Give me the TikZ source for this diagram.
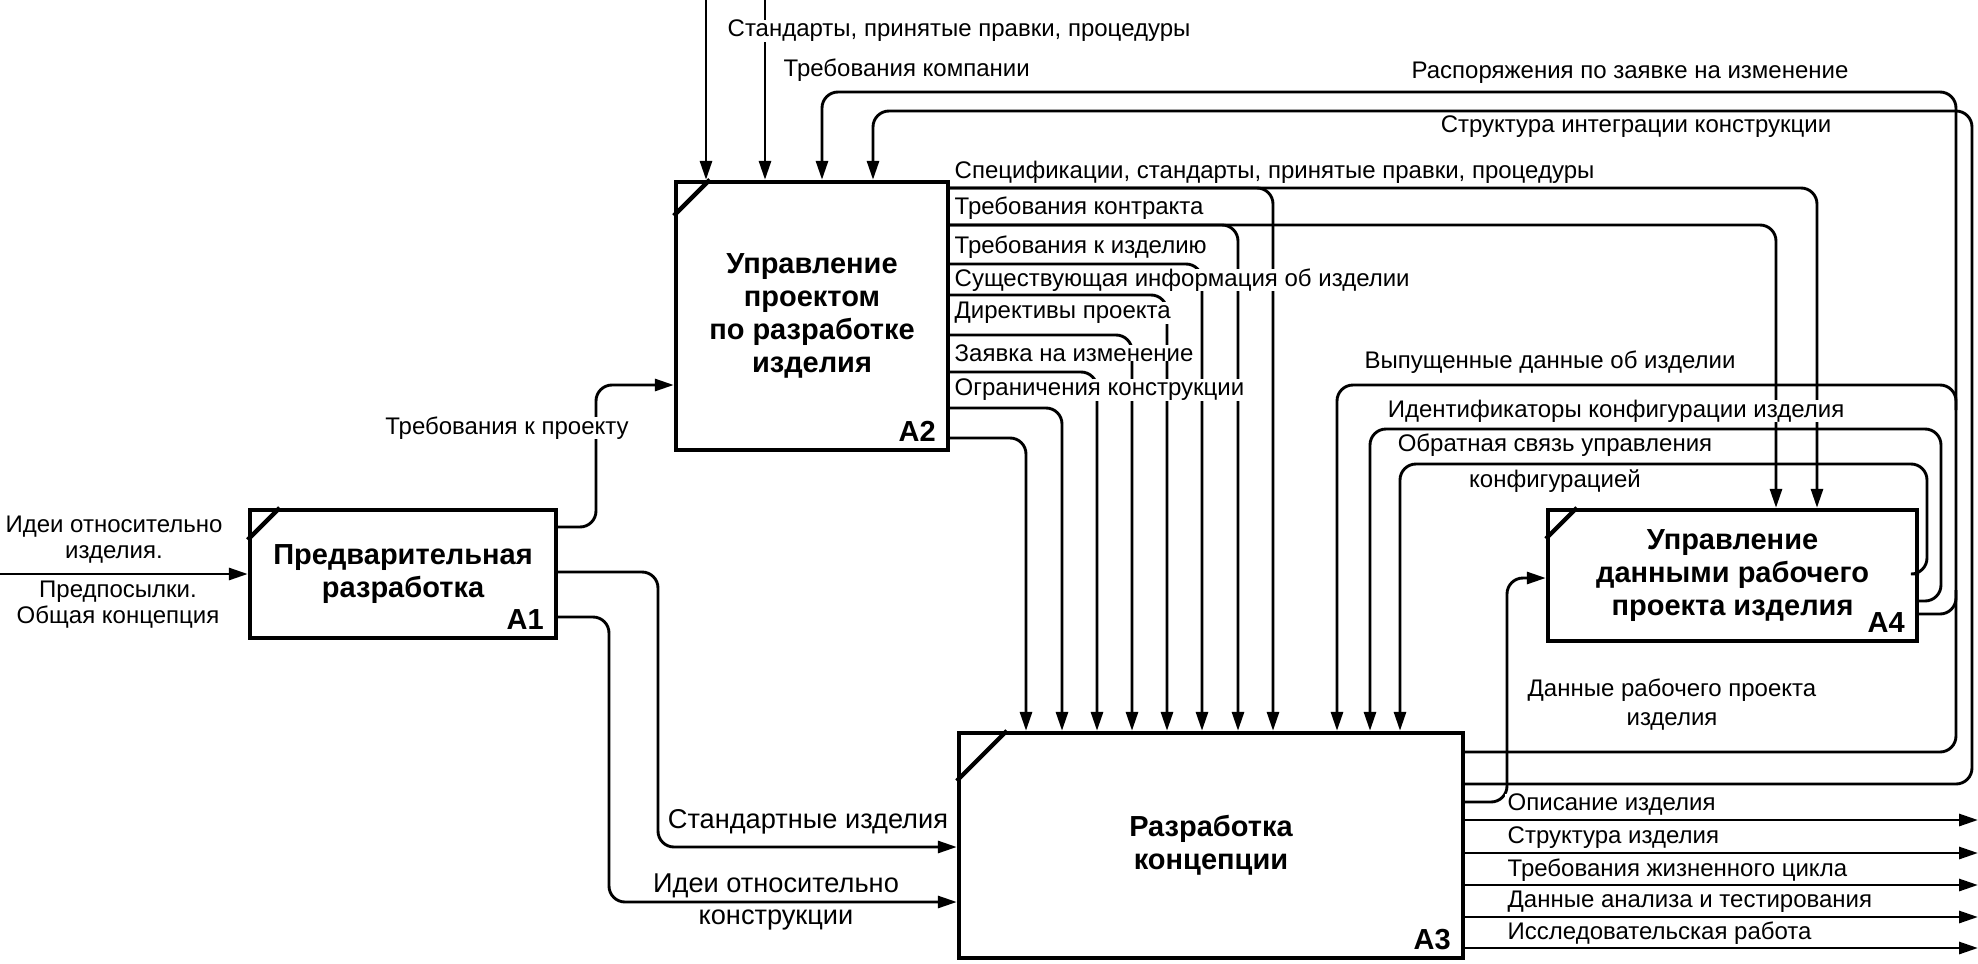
\documentclass[tikz,border=0pt]{standalone}
\usepackage{fontspec}
\setmainfont{Liberation Sans}
\usetikzlibrary{arrows.meta}
\tikzstyle{func}=[draw, line width=2.2pt, align=center, inner sep=0pt, font=\bfseries\fontsize{14.5}{16.5}\selectfont]
\tikzstyle{num}=[anchor=south east, inner xsep=7pt, inner ysep=5pt, font=\bfseries\fontsize{14.5}{16.5}\selectfont]
\tikzstyle{arr}=[line width=1.45pt, rounded corners=8pt, -{Triangle[length=9.5pt,width=6pt]}]
\tikzstyle{wire}=[line width=1.45pt, rounded corners=8pt]
\tikzstyle{txt}=[fill=white, inner xsep=.4mm, inner ysep=0pt, font=\fontsize{12}{13}\selectfont]
\tikzstyle{txt2}=[align=center, inner sep=0pt, font=\fontsize{12}{13}\selectfont]
\tikzstyle{big}=[font=\fontsize{13.6}{14}\selectfont]
\begin{document}
\begin{tikzpicture}[x=.5pt, y=-.5pt]
\useasboundingbox (0,0) rectangle (1978,964);
% blocks
\node[func, minimum width=153pt, minimum height=64pt, label={[num]south east:A1}] (a1) at (403,574) {Предварительная\\разработка};
\node[func, minimum width=136pt, minimum height=134pt, label={[num]south east:A2}] (a2) at (812,316) {Управление\\проектом\\по разработке\\изделия};
\node[func, minimum width=252pt, minimum height=112.5pt, label={[num]south east:A3}] (a3) at (1211,845.5) {Разработка\\концепции};
\node[func, minimum width=184.5pt, minimum height=65.5pt, label={[num]south east:A4}] (a4) at (1732.5,575.5) {Управление\\данными рабочего\\проекта изделия};
\foreach \b/\d in {a1/16pt, a2/18pt, a3/25pt, a4/15.5pt}
  \draw[line width=2.2pt] ([yshift=-\d]\b.north west) -- ([xshift=\d]\b.north west);
% free ends
\coordinate (c1) at (706,0);
\coordinate (c2) at (765,0);
\coordinate (i1) at (0,574);
\coordinate (j1) at (1956,410);
\coordinate (j2) at (1956,590);
\draw[arr] (c1) -- (c1 |- a2.north);
\draw[arr] (c2) -- (c2 |- a2.north);
\draw[arr] (i1) -- (a1.west);
% A1 outputs
\draw[arr] (a1.east |- 0,527) -- (596,527) -- (596,385) -- (a2.west |- 0,385);
\draw[arr] (a1.east |- 0,572) -- (658,572) -- (658,847) -- (a3.west |- 0,847);
\draw[arr] (a1.east |- 0,617) -- (609,617) -- (609,902) -- (a3.west |- 0,902);
% A2 outputs
\foreach \y/\x in {188/1273, 225/1238, 264/1202, 295/1167, 335/1132, 372/1097, 408/1062, 438/1026}
  \draw[arr] (a2.east |- 0,\y) -- (\x,\y) -- (\x,0 |- a3.north);
\foreach \y/\x in {188/1817, 225/1776}
  \draw[arr] (a2.east |- 0,\y) -- (\x,\y) -- (\x,0 |- a4.north);
% A3 back to A2 and on to A4
\draw[arr] (a3.east |- 0,802) -- (1507,802) -- (1507,578) -- (a4.west |- 0,578);
\foreach \y/\r/\t/\x in {752/1956/92/822, 784/1972/111/873}
  \draw[arr] (a3.east |- 0,\y) -- (\r,\y) -- (\r,\t) -- (\x,\t) -- (\x,0 |- a2.north);
% A4 back to A3
\foreach \y/\r/\t/\x in {574/1927/464/1400, 601/1941/429/1370}
  \draw[arr] (a4.east |- 0,\y) -- (\r,\y) -- (\r,\t) -- (\x,\t) -- (\x,0 |- a3.north);
\draw[wire] (a4.east |- 0,614) -- (j2 |- 0,614) -- (j2);
\draw[arr] (j1) -- (j1 |- 0,385) -- (1337,385) -- (1337,0 |- a3.north);
% A3 outputs
\foreach \y/\t [count=\i] in {820/Описание изделия, 853/Структура изделия, 885/Требования жизненного цикла, 917/Данные анализа и тестирования, 948/Исследовательская работа} {
  \coordinate (o\i) at (1978,\y);
  \draw[arr] (a3.east |- o\i) -- (o\i);
  \node[txt, anchor=west] at (1505,\y-15) {\t};
}
% labels
\node[txt, anchor=west] at (725,31) {Стандарты, принятые правки, процедуры};
\node[txt, anchor=west] at (781,70) {Требования компании};
\node[txt] at (1630,73) {Распоряжения по заявке на изменение};
\node[txt] at (1636,127) {Структура интеграции конструкции};
\node[txt, anchor=west] at (952,172) {Спецификации, стандарты, принятые правки, процедуры};
\foreach \y/\t in {208/Требования контракта, 247/Требования к изделию, 280/Существующая информация об изделии, 313/Директивы проекта, 353/Заявка на изменение, 390/Ограничения конструкции}
  \node[txt, anchor=west] at (952,\y) {\t};
\node[txt] at (507,428) {Требования к проекту};
\node[txt, big] at (808,822) {Стандартные изделия};
\node[txt2, big] at (776,902) {Идеи относительно\\[2pt]конструкции};
\node[txt2] at (114,540) {Идеи относительно\\изделия.};
\node[txt2] at (118,605) {Предпосылки.\\Общая концепция};
\node[txt] at (1550,362) {Выпущенные данные об изделии};
\node[txt] at (1616,411) {Идентификаторы конфигурации изделия};
\node[txt2] at (1555,463) {Обратная связь управления\\[5pt]конфигурацией};
\node[txt2] at (1672,705) {Данные рабочего проекта\\[1.5pt]изделия};
\end{tikzpicture}
\end{document}
